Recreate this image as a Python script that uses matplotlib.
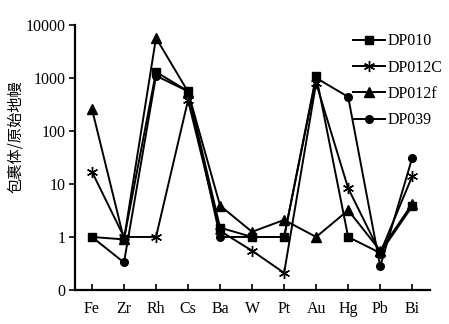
import numpy as np
import matplotlib.pyplot as plt

# elements (x categories)
elements = ['Fe', 'Zr', 'Rh', 'Cs', 'Ba', 'W', 'Pt', 'Au', 'Hg', 'Pb', 'Bi']

# normalised values (inclusion / primitive mantle)
dp010 = [1.0, 0.9, 1300, 560, 1.5, 1.0, 1.0, 1100, 1.0, 0.5, 3.8]
dp012c = [17, 1.0, 1.0, 380, 1.3, 0.55, 0.21, 800, 8.3, 0.5, 14]
dp012f = [260, 0.9, 5700, 550, 3.9, 1.25, 2.1, 1.0, 3.2, 0.55, 4.2]
dp039 = [1.0, 0.33, 1100, 560, 1.0, 1.0, 1.0, 1000, 440, 0.28, 31]

y_ticks = [0.1, 1, 10, 100, 1000, 10000]
y_tick_labels = ['0', '1', '10', '100', '1000', '10000']

plt.rcParams['font.family'] = ['Liberation Serif', 'DejaVu Serif']

fig = plt.figure(figsize=(4.49, 3.24), dpi=100)
ax = fig.add_axes([0.167, 0.105, 0.791, 0.818])

x = np.arange(len(elements))
lw = 1.4
ax.plot(x, dp010, color='black', lw=lw, marker='s', ms=6, label='DP010')
ax.plot(x, dp012c, color='black', lw=lw, marker=(6, 2, 0), ms=8, mew=1.0, label='DP012C')
ax.plot(x, dp012f, color='black', lw=lw, marker='^', ms=6.5, label='DP012f')
ax.plot(x, dp039, color='black', lw=lw, marker='o', ms=5.5, label='DP039')

ax.set_yscale('log')
ax.set_ylim(0.1, 10000)
ax.set_xlim(-0.53, 10.56)
ax.set_yticks(y_ticks)
ax.set_yticklabels(y_tick_labels)
ax.minorticks_off()
ax.set_xticks(x)
ax.set_xticklabels(elements)

ax.spines['top'].set_visible(False)
ax.spines['right'].set_visible(False)
ax.spines['left'].set_linewidth(1.6)
ax.spines['bottom'].set_linewidth(1.6)
ax.tick_params(axis='y', direction='out', length=4, width=1.2, labelsize=11.5, pad=3)
ax.tick_params(axis='x', direction='in', length=4, width=1.2, labelsize=11.5, pad=8)

ax.set_ylabel('包裹体/原始地幔', family=['Noto Sans CJK SC', 'DejaVu Sans'], fontsize=11)
ax.yaxis.set_label_coords(-0.143, 0.577)

leg = ax.legend(loc='upper right', bbox_to_anchor=(1.075, 1.023), frameon=False,
                fontsize=11.5, handlelength=2.0, handletextpad=0.15, labelspacing=0.65)

plt.savefig('out.png', dpi=100)
